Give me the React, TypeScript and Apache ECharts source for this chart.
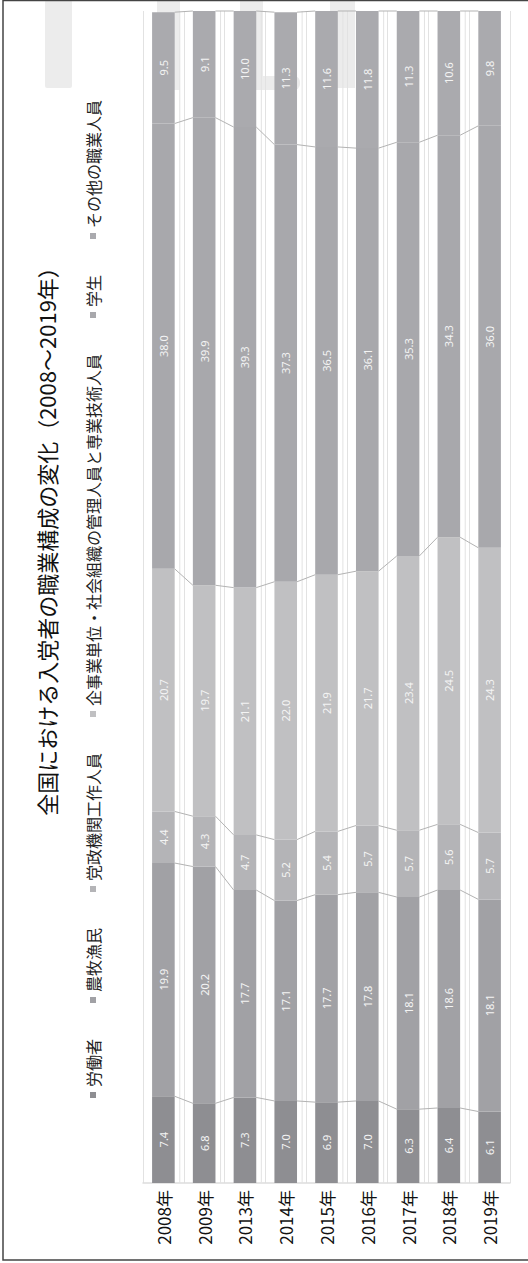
import React, { useEffect, useRef } from "react";
import * as echarts from "echarts";

const categories = ["2008年", "2009年", "2013年", "2014年", "2015年", "2016年", "2017年", "2018年", "2019年"];
const seriesNames = [
  "労働者",
  "農牧漁民",
  "党政機関工作人員",
  "企事業単位・社会組織の管理人員と専業技術人員",
  "学生",
  "その他の職業人員",
];
const workers = [7.4, 6.8, 7.3, 7.0, 6.9, 7.0, 6.3, 6.4, 6.1];
const farmers = [19.9, 20.2, 17.7, 17.1, 17.7, 17.8, 18.1, 18.6, 18.1];
const officials = [4.4, 4.3, 4.7, 5.2, 5.4, 5.7, 5.7, 5.6, 5.7];
const managers = [20.7, 19.7, 21.1, 22.0, 21.9, 21.7, 23.4, 24.5, 24.3];
const students = [38.0, 39.9, 39.3, 37.3, 36.5, 36.1, 35.3, 34.3, 36.0];
const others = [9.5, 9.1, 10.0, 11.3, 11.6, 11.8, 11.3, 10.6, 9.8];
const colors = ["#8e8e92", "#a1a1a5", "#b4b4b7", "#c0c0c2", "#a8a8ac", "#aaaaae"];
const title = "全国における入党者の職業構成の変化（2008〜2019年）";

const W = 1263;
const H = 528;
const BAR_W = 22.6;

export default function App() {
  const ref = useRef<HTMLDivElement>(null);
  useEffect(() => {
    if (!ref.current) return;
    const chart = echarts.init(ref.current, null, { renderer: "svg" });
    const allSeries = [workers, farmers, officials, managers, students, others];
    const cum = categories.map((_, i) => {
      let s = 0;
      return allSeries.map((arr) => {
        s += arr[i];
        return Math.min(s, 100);
      });
    });
    const cjk = "'Noto Sans CJK JP', 'Noto Sans', sans-serif";
    const wm = (x0: number, x1: number, y0: number, y1: number, r = 0) => ({
      type: "rect",
      z: -10,
      silent: true,
      shape: { x: W - y1, y: x0, width: y1 - y0, height: x1 - x0, r },
      style: { fill: "#ececec" },
    });
    chart.setOption({
      animation: false,
      backgroundColor: "#ffffff",
      legend: {
        data: seriesNames,
        left: 160,
        top: 80,
        icon: "rect",
        itemWidth: 6,
        itemHeight: 6,
        itemGap: 36,
        textStyle: { fontSize: 16, color: "#222", fontFamily: cjk },
      },
      graphic: [
        wm(45, 72, 0, 88, 2),
        wm(157, 180, 0, 90),
        wm(240, 263, 0, 80),
        wm(250, 300, 76, 90, 6),
        wm(330, 355, 0, 88),
        {
          type: "text",
          x: 727,
          y: 46,
          style: {
            text: title,
            align: "center",
            verticalAlign: "middle",
            fontSize: 22,
            fontFamily: cjk,
            fill: "#111",
          },
        },
        {
          type: "rect",
          silent: true,
          z: 100,
          shape: { x: 3, y: 3, width: W - 3.5, height: 600 },
          style: { fill: "none", stroke: "#444", lineWidth: 1.5 },
        },
      ],
      grid: { left: 80, right: 11, top: 143, bottom: 18 },
      xAxis: {
        type: "value",
        min: 0,
        max: 100,
        show: false,
      },
      yAxis: {
        type: "category",
        inverse: true,
        data: categories,
        axisLine: { show: true, lineStyle: { color: "#dddddd", width: 1.5 } },
        axisTick: { show: false },
        splitLine: { show: true, interval: 0, lineStyle: { color: "#e2e2e2", width: 1 } },
        axisLabel: { fontSize: 17, color: "#111", margin: 7, fontFamily: cjk },
      },
      series: [
        ...seriesNames.map((name, k) => ({
          name,
          type: "bar",
          stack: "total",
          barWidth: BAR_W,
          itemStyle: { color: colors[k] },
          label: {
            show: true,
            position: "inside",
            color: "#f4f4f4",
            fontSize: 11,
            fontFamily: "'Noto Sans', sans-serif",
            formatter: (p: any) => Number(p.value).toFixed(1),
          },
          data: allSeries[k],
        })),
        {
          type: "custom",
          silent: true,
          z: 1,
          data: categories.slice(0, -1).map((_, i) => [0, i]),
          encode: { x: 0, y: 1 },
          renderItem: (params: any, api: any) => {
            const i = params.dataIndex;
            const children: any[] = [];
            const a = api.coord([0, i]);
            const b = api.coord([0, i + 1]);
            const band = api.size([0, 1])[1];
            const boundary = a[1] + band / 2;
            const start = api.coord([0, 0]);
            const end = api.coord([100, 0]);
            children.push({
              type: "line",
              shape: { x1: start[0], y1: boundary - 4, x2: end[0], y2: boundary - 4 },
              style: { stroke: "#e2e2e2", lineWidth: 1 },
            });
            for (let k = 0; k < seriesNames.length; k++) {
              const p1 = api.coord([cum[i][k], i]);
              const p2 = api.coord([cum[i + 1][k], i + 1]);
              children.push({
                type: "line",
                z2: 10,
                shape: { x1: p1[0], y1: a[1] + BAR_W / 2, x2: p2[0], y2: b[1] - BAR_W / 2 },
                style: { stroke: "#b3b3b3", lineWidth: 1 },
              });
            }
            return { type: "group", children };
          },
        },
      ],
    });
    return () => chart.dispose();
  }, []);
  return (
    <div
      ref={ref}
      style={{
        position: "absolute",
        left: 0,
        top: 0,
        width: W,
        height: H,
        transformOrigin: "0 0",
        transform: `translate(0px, ${W}px) rotate(-90deg)`,
      }}
    />
  );
}
